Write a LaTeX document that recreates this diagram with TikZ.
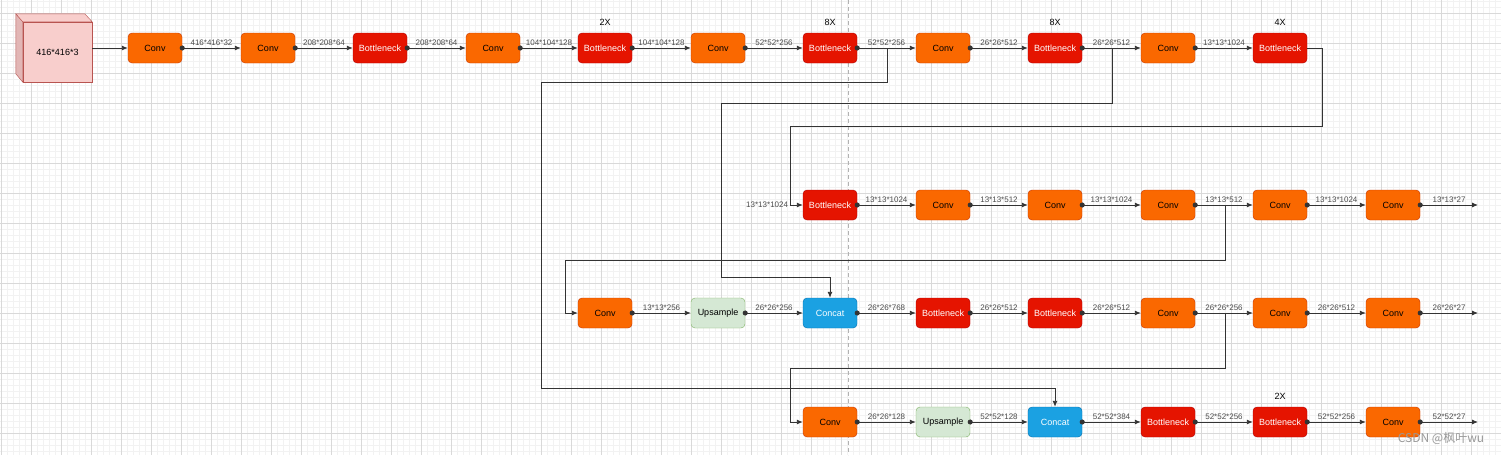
\documentclass[tikz,border=0pt]{standalone}
\usepackage{fontspec}
\setmainfont{Liberation Sans}
\newfontfamily\cjk{Noto Sans CJK SC}
\usetikzlibrary{arrows.meta}

\definecolor{convfill}{HTML}{FA6800}
\definecolor{convline}{HTML}{C73500}
\definecolor{bnfill}{HTML}{E51400}
\definecolor{bnline}{HTML}{B20000}
\definecolor{catfill}{HTML}{1BA1E2}
\definecolor{catline}{HTML}{006EAF}
\definecolor{upfill}{HTML}{D5E8D4}
\definecolor{upline}{HTML}{82B366}
\definecolor{cubefill}{HTML}{F8CECC}
\definecolor{cubeside}{HTML}{E2B6B5}
\definecolor{cubeline}{HTML}{B85450}

\tikzset{
    block/.style={draw, rounded corners=4pt, minimum width=54pt, minimum height=30pt, inner sep=0pt, font=\fontsize{9}{10}\selectfont},
    conv/.style={block, fill=convfill, draw=convline},
    bneck/.style={block, fill=bnfill, draw=bnline, text=white},
    concat/.style={block, fill=catfill, draw=catline, text=white},
    upsample/.style={block, fill=upfill, draw=upline},
    loopcount/.style={font=\fontsize{9}{10}\selectfont, yshift=4pt},
    flow/.style={draw=black!80, line width=0.9pt, -{Latex[length=6pt,width=5pt]}},
    tapped/.style={flow, {Circle[length=5pt]}-{Latex[length=6pt,width=5pt]}, shorten <=-2.5pt},
    dims/.style={font=\fontsize{8}{9}\selectfont, text=black!70, above, inner sep=1.5pt},
    minorgrid/.style={draw=black!5, line width=0.6pt},
    majorgrid/.style={draw=black!15, line width=0.6pt},
}

\begin{document}
\begin{tikzpicture}[x=1pt, y=-1pt]
    \useasboundingbox (0,0) rectangle (1501,455);
    \fill[white] (0,0) rectangle (1501,455);

    \foreach \gx in {1,7,...,1501} \draw[minorgrid] (\gx,0) -- (\gx,455);
    \foreach \gy in {1,7,...,455} \draw[minorgrid] (0,\gy) -- (1501,\gy);
    \foreach \gx in {1,31,...,1501} \draw[majorgrid] (\gx,0) -- (\gx,455);
    \foreach \gy in {13,43,...,455} \draw[majorgrid] (0,\gy) -- (1501,\gy);
    \draw[black!30, line width=0.8pt, dash pattern=on 4pt off 3pt] (848,0) -- (848,455);

    \node[draw=cubeline, fill=cubefill, minimum width=69pt, minimum height=60pt, inner sep=0pt, font=\fontsize{9}{10}\selectfont] at (57.5,52) (input) {416*416*3};
    \filldraw[fill=cubeside, draw=cubeline] (input.north west) -- ++(-7,-8) -- ++(0,60) -- (input.south west) -- cycle;
    \filldraw[fill=cubefill, draw=cubeline] (input.north west) -- ++(-7,-8) -- ++(69,0) -- (input.north east) -- cycle;

    \node[conv] at (155,48) (conv1) {Conv};
    \node[conv] at (268,48) (conv2) {Conv};
    \node[bneck] at (380,48) (bneck1) {Bottleneck};
    \node[conv] at (493,48) (conv3) {Conv};
    \node[bneck, label={[loopcount]above:2X}] at (605,48) (bneck2) {Bottleneck};
    \node[conv] at (718,48) (conv4) {Conv};
    \node[bneck, label={[loopcount]above:8X}] at (830,48) (bneck3) {Bottleneck};
    \node[conv] at (943,48) (conv5) {Conv};
    \node[bneck, label={[loopcount]above:8X}] at (1055,48) (bneck4) {Bottleneck};
    \node[conv] at (1168,48) (conv6) {Conv};
    \node[bneck, label={[loopcount]above:4X}] at (1280,48) (bneck5) {Bottleneck};

    \node[bneck] at (830,205) (bneck6) {Bottleneck};
    \node[conv] at (943,205) (conv7) {Conv};
    \node[conv] at (1055,205) (conv8) {Conv};
    \node[conv] at (1168,205) (conv9) {Conv};
    \node[conv] at (1280,205) (conv10) {Conv};
    \node[conv] at (1393,205) (conv11) {Conv};
    \coordinate (out1) at (1478,205);

    \node[conv] at (605,313) (conv12) {Conv};
    \node[upsample] at (718,313) (up1) {Upsample};
    \node[concat] at (830,313) (cat1) {Concat};
    \node[bneck] at (943,313) (bneck7) {Bottleneck};
    \node[bneck] at (1055,313) (bneck8) {Bottleneck};
    \node[conv] at (1168,313) (conv13) {Conv};
    \node[conv] at (1280,313) (conv14) {Conv};
    \node[conv] at (1393,313) (conv15) {Conv};
    \coordinate (out2) at (1478,313);

    \node[conv] at (830,422) (conv16) {Conv};
    \node[upsample] at (943,422) (up2) {Upsample};
    \node[concat] at (1055,422) (cat2) {Concat};
    \node[bneck] at (1168,422) (bneck9) {Bottleneck};
    \node[bneck, label={[loopcount]above:2X}] at (1280,422) (bneck10) {Bottleneck};
    \node[conv] at (1393,422) (conv17) {Conv};
    \coordinate (out3) at (1478,422);

    \draw[flow] (input.east |- conv1) -- (conv1.west);
    \draw[tapped] (conv1.east) -- node[dims] (d1) {416*416*32} (conv2.west);
    \draw[tapped] (conv2.east) -- node[dims] (d2) {208*208*64} (bneck1.west);
    \draw[tapped] (bneck1.east) -- node[dims] (d3) {208*208*64} (conv3.west);
    \draw[tapped] (conv3.east) -- node[dims] (d4) {104*104*128} (bneck2.west);
    \draw[tapped] (bneck2.east) -- node[dims] (d5) {104*104*128} (conv4.west);
    \draw[tapped] (conv4.east) -- node[dims] (d6) {52*52*256} (bneck3.west);
    \draw[tapped] (bneck3.east) -- node[dims] (d7) {52*52*256} (conv5.west);
    \draw[tapped] (conv5.east) -- node[dims] (d8) {26*26*512} (bneck4.west);
    \draw[tapped] (bneck4.east) -- node[dims] (d9) {26*26*512} (conv6.west);
    \draw[tapped] (conv6.east) -- node[dims] (d10) {13*13*1024} (bneck5.west);

    \draw[flow] (bneck5.east) -| (1322,126) -| (790,205) node[dims, left] (d11) {13*13*1024} -- (bneck6.west);
    \draw[tapped] (bneck6.east) -- node[dims] (d12) {13*13*1024} (conv7.west);
    \draw[tapped] (conv7.east) -- node[dims] (d13) {13*13*512} (conv8.west);
    \draw[tapped] (conv8.east) -- node[dims] (d14) {13*13*1024} (conv9.west);
    \draw[tapped] (conv9.east) -- node[dims] (d15) {13*13*512} (conv10.west);
    \draw[tapped] (conv10.east) -- node[dims] (d16) {13*13*1024} (conv11.west);
    \draw[tapped] (conv11.east) -- node[dims] (d17) {13*13*27} (out1);

    \draw[flow] (conv9.east) -| (1225,260) -| (565,313) -- (conv12.west);
    \draw[tapped] (conv12.east) -- node[dims] (d18) {13*13*256} (up1.west);
    \draw[tapped] (up1.east) -- node[dims] (d19) {26*26*256} (cat1.west);
    \draw[flow] (bneck4.east) -| (1112,103) -| (721,277) -| (cat1.north);
    \draw[tapped] (cat1.east) -- node[dims] (d20) {26*26*768} (bneck7.west);
    \draw[tapped] (bneck7.east) -- node[dims] (d21) {26*26*512} (bneck8.west);
    \draw[tapped] (bneck8.east) -- node[dims] (d22) {26*26*512} (conv13.west);
    \draw[tapped] (conv13.east) -- node[dims] (d23) {26*26*256} (conv14.west);
    \draw[tapped] (conv14.east) -- node[dims] (d24) {26*26*512} (conv15.west);
    \draw[tapped] (conv15.east) -- node[dims] (d25) {26*26*27} (out2);

    \draw[flow] (conv13.east) -| (1225,368) -| (790,422) -- (conv16.west);
    \draw[tapped] (conv16.east) -- node[dims] (d26) {26*26*128} (up2.west);
    \draw[tapped] (up2.east) -- node[dims] (d27) {52*52*128} (cat2.west);
    \draw[flow] (bneck3.east) -| (887,82) -| (541,388) -| (cat2.north);
    \draw[tapped] (cat2.east) -- node[dims] (d28) {52*52*384} (bneck9.west);
    \draw[tapped] (bneck9.east) -- node[dims] (d29) {52*52*256} (bneck10.west);
    \draw[tapped] (bneck10.east) -- node[dims] (d30) {52*52*256} (conv17.west);
    \draw[tapped] (conv17.east) -- node[dims] (d31) {52*52*27} (out3);

    \node[text=black!40, font=\cjk\fontsize{12}{12}\selectfont] at (1441,438) (mark) {CSDN @枫叶wu};
\end{tikzpicture}
\end{document}
